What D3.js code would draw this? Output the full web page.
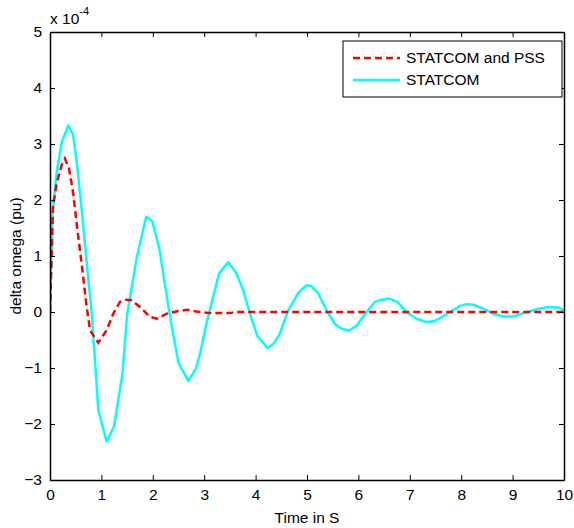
<!doctype html>
<html lang="en">
<head>
  <meta charset="utf-8">
  <title>delta omega</title>
  <script src="https://d3js.org/d3.v7.min.js"></script>
  <style type="text/css">
    html, body { margin: 0; padding: 0; background: #fff; }
    svg { display: block; }
    text { font-family: "Liberation Sans", Arial, sans-serif; fill: #000; }
  </style>
</head>
<body>
<script>
  // STATCOM only (cyan) - time in s, value in 1e-4 pu
  var statcomT = [0, 0.045, 0.13, 0.23, 0.357, 0.45, 0.53, 0.63, 0.71, 0.81, 0.875, 0.94, 1.10, 1.245, 1.41, 1.5, 1.69, 1.87, 1.99, 2.13, 2.32, 2.50, 2.69, 2.84, 2.92, 3.05, 3.29, 3.47, 3.62, 3.76, 3.88, 4.03, 4.23, 4.35, 4.47, 4.62, 4.83, 4.99, 5.09, 5.22, 5.40, 5.54, 5.67, 5.82, 5.97, 6.16, 6.32, 6.45, 6.60, 6.76, 6.94, 7.13, 7.33, 7.49, 7.59, 7.78, 7.98, 8.11, 8.24, 8.43, 8.62, 8.82, 9.01, 9.21, 9.40, 9.53, 9.69, 9.89, 10];
  var statcomV = [0, 1.72, 2.5, 3.04, 3.33, 3.16, 2.6, 1.70, 0.92, 0, -0.86, -1.75, -2.31, -2.05, -1.10, -0.04, 0.98, 1.70, 1.62, 1.12, 0, -0.91, -1.23, -1.01, -0.74, -0.18, 0.69, 0.89, 0.70, 0.39, 0, -0.42, -0.64, -0.57, -0.39, 0, 0.34, 0.48, 0.46, 0.33, 0, -0.21, -0.30, -0.33, -0.24, 0, 0.18, 0.22, 0.24, 0.18, 0, -0.12, -0.18, -0.16, -0.11, 0, 0.11, 0.14, 0.13, 0.06, -0.03, -0.08, -0.08, -0.02, 0.03, 0.06, 0.09, 0.08, 0.03];

  // STATCOM and PSS (red dashed)
  var pssT = [0, 0.06, 0.13, 0.23, 0.29, 0.37, 0.45, 0.53, 0.62, 0.71, 0.78, 0.94, 1.10, 1.23, 1.36, 1.49, 1.59, 1.75, 1.95, 2.08, 2.27, 2.46, 2.66, 2.85, 3.11, 3.5, 3.6, 4, 5, 6, 7, 8, 9, 10];
  var pssV = [0, 1.9, 2.3, 2.63, 2.74, 2.56, 2.13, 1.49, 0.83, 0.12, -0.33, -0.55, -0.33, -0.03, 0.18, 0.22, 0.21, 0.09, -0.09, -0.12, -0.03, 0.01, 0.04, 0.01, -0.02, -0.02, 0, 0, 0, 0, 0, 0, 0, 0];

  var xTicks = [0, 1, 2, 3, 4, 5, 6, 7, 8, 9, 10];
  var yTicks = [-3, -2, -1, 0, 1, 2, 3, 4, 5];
  var seriesNames = ["STATCOM and PSS", "STATCOM"];

  var W = 574, H = 528;
  var margin = { top: 32, right: 10, bottom: 48, left: 50 };
  var width = W - margin.left - margin.right,
      height = H - margin.top - margin.bottom;
  var fs = "15.5px";

  var x = d3.scaleLinear().domain([0, 10]).range([0, width]);
  var y = d3.scaleLinear().domain([-3, 5]).range([height, 0]);

  var svg = d3.select("body").append("svg")
    .attr("width", W)
    .attr("height", H);

  var g = svg.append("g")
    .attr("transform", "translate(" + margin.left + "," + margin.top + ")");

  // clip the lines to the axes box
  svg.append("defs").append("clipPath").attr("id", "clip")
    .append("rect").attr("width", width).attr("height", height);

  var line = d3.line()
    .x(function(d) { return x(d[0]); })
    .y(function(d) { return y(d[1]); });

  var cyanData = statcomT.map(function(t, i) { return [t, statcomV[i]]; });
  var redData = pssT.map(function(t, i) { return [t, pssV[i]]; });

  var plot = g.append("g").attr("clip-path", "url(#clip)");

  plot.append("path")
    .datum(cyanData)
    .attr("fill", "none")
    .attr("stroke", "#00ffff")
    .attr("stroke-width", 2.5)
    .attr("stroke-linejoin", "round")
    .attr("d", line);

  plot.append("path")
    .datum(redData)
    .attr("fill", "none")
    .attr("stroke", "#ff0000")
    .attr("stroke-width", 2.5)
    .attr("stroke-dasharray", "7,4")
    .attr("d", line);

  // axes, MATLAB style: ticks inward on all four sides
  var tk = 5;
  var axBottom = g.append("g").attr("transform", "translate(0," + height + ")")
    .call(d3.axisBottom(x).tickValues(xTicks).tickSizeInner(-tk).tickSizeOuter(0).tickPadding(9));
  var axTop = g.append("g")
    .call(d3.axisTop(x).tickValues(xTicks).tickSizeInner(-tk).tickSizeOuter(0).tickFormat(""));
  var axLeft = g.append("g")
    .call(d3.axisLeft(y).tickValues(yTicks).tickSizeInner(-tk).tickSizeOuter(0).tickPadding(8));
  var axRight = g.append("g").attr("transform", "translate(" + width + ",0)")
    .call(d3.axisRight(y).tickValues(yTicks).tickSizeInner(-tk).tickSizeOuter(0).tickFormat(""));

  [axBottom, axTop, axLeft, axRight].forEach(function(a) {
    a.select(".domain").attr("stroke", "#000").attr("stroke-width", 1.5);
    a.selectAll(".tick line").attr("stroke", "#000").attr("stroke-width", 1);
    a.selectAll("text")
      .style("font-family", "Liberation Sans, Arial, sans-serif")
      .style("font-size", fs)
      .attr("fill", "#000");
  });

  // exponent label
  var expo = svg.append("text")
    .attr("x", margin.left)
    .attr("y", 24)
    .style("font-size", fs);
  expo.append("tspan").text("x 10");
  expo.append("tspan").attr("dy", -9).style("font-size", "11px").text("-4");

  // axis titles
  svg.append("text")
    .attr("x", margin.left + width / 2)
    .attr("y", 523)
    .attr("text-anchor", "middle")
    .style("font-size", fs)
    .text("Time in S");

  svg.append("text")
    .attr("transform", "translate(21," + (margin.top + height / 2) + ") rotate(-90)")
    .attr("text-anchor", "middle")
    .style("font-size", fs)
    .text("delta omega (pu)");

  // legend
  var lg = svg.append("g").attr("transform", "translate(343,41)");
  lg.append("rect")
    .attr("width", 219).attr("height", 56)
    .attr("fill", "#fff").attr("stroke", "#000").attr("stroke-width", 1);

  var legendStyle = [
    { color: "#ff0000", dash: "7,4" },
    { color: "#00ffff", dash: null }
  ];
  seriesNames.forEach(function(name, i) {
    var yy = 17 + i * 22;
    lg.append("line")
      .attr("x1", 10).attr("x2", 57)
      .attr("y1", yy).attr("y2", yy)
      .attr("stroke", legendStyle[i].color)
      .attr("stroke-width", 2.5)
      .attr("stroke-dasharray", legendStyle[i].dash);
    lg.append("text")
      .attr("x", 63).attr("y", yy + 5)
      .style("font-size", fs)
      .text(name);
  });
</script>
</body>
</html>
